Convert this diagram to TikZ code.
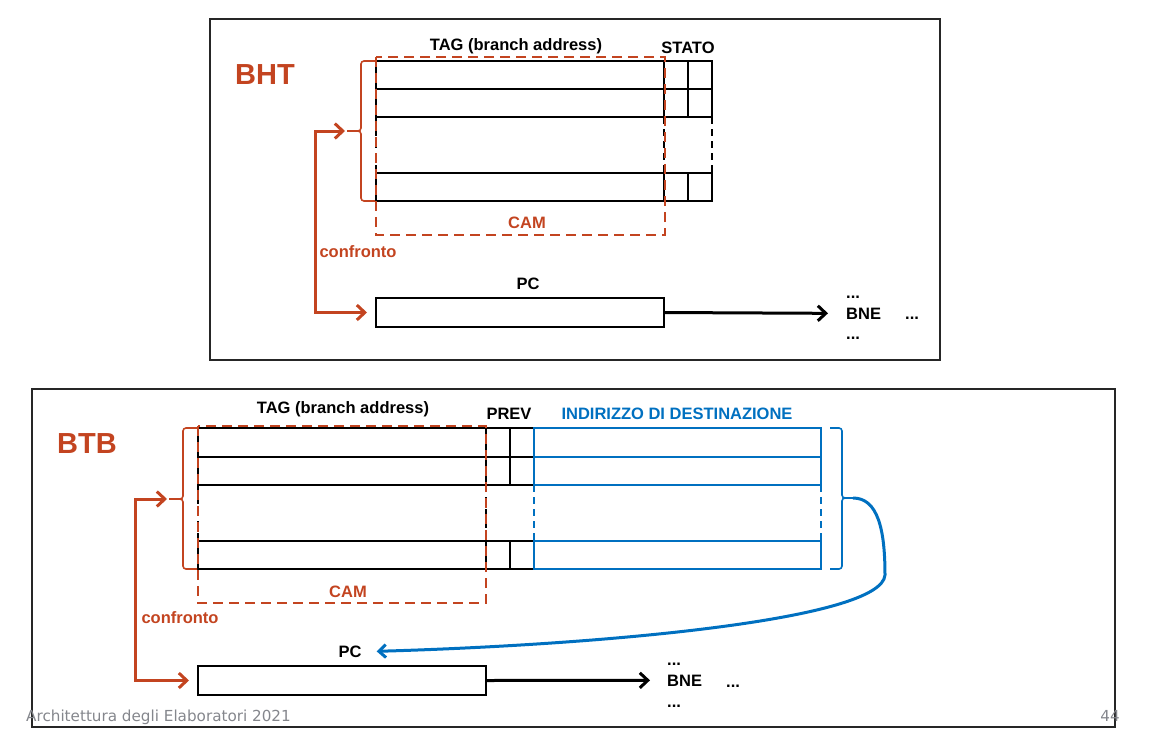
\documentclass[tikz,border=0pt]{standalone}
\usepackage{fontspec}
\setmainfont{Liberation Sans}
\newfontfamily\footfont{DejaVu Sans}
\usetikzlibrary{arrows.meta}
\definecolor{rust}{RGB}{195,68,32}
\definecolor{dblue}{RGB}{0,112,192}
\definecolor{footgray}{RGB}{132,134,140}
\begin{document}
\begin{tikzpicture}[x=1pt,y=-1pt,
  frame/.style={draw=black!85, line width=2pt},
  rowbox/.style={draw=black, line width=2.6pt},
  divider/.style={draw=black, line width=1.6pt},
  blurow/.style={draw=dblue, line width=2.8pt},
  gapline/.style={draw=black, line width=1.8pt, dash pattern=on 7pt off 5pt},
  bgapline/.style={draw=dblue, line width=1.8pt, dash pattern=on 7pt off 5pt},
  cam/.style={draw=rust, line width=2.8pt, dash pattern=on 10pt off 6pt},
  bracepath/.style={line width=1.6pt, rounded corners=3pt},
  pcbox/.style={draw=black, line width=2.6pt, minimum width=288pt, minimum height=29pt, inner sep=0pt, outer sep=0pt, anchor=north west},
  lab/.style={font=\fontsize{16.5}{18}\selectfont\bfseries, inner sep=0pt},
  biglab/.style={font=\fontsize{29}{32}\selectfont\bfseries, text=rust, inner sep=0pt},
  footlab/.style={font=\footfont\fontsize{15.2}{17}\selectfont, text=footgray, inner sep=0pt},
  redarrow/.style={draw=rust, line width=3pt, {Straight Barb[length=8pt,width=15pt]}-{Straight Barb[length=8pt,width=15pt]}},
  blkarrow/.style={draw=black, line width=3pt, -{Straight Barb[length=8pt,width=15pt]}},
  bluarrow/.style={draw=dblue, line width=3pt, -{Straight Barb[length=7pt,width=13pt]}}
]
\useasboundingbox (0,0) rectangle (1171,745);

% ===================== BHT =====================
\draw[frame] (210,19) rectangle (940,360);
\node[biglab, anchor=base] (bhtlbl) at (265,84) {BHT};

\foreach \t/\b in {61/89, 89/117, 173/201} {
  \draw[rowbox] (376,\t) rectangle (664,\b);
  \draw[rowbox] (664,\t) rectangle (712,\b);
  \draw[divider] (688,\t) -- (688,\b);
}
\draw[gapline] (376,117) -- (376,173);
\draw[gapline] (664,117) -- (664,173);
\draw[gapline] (712,117) -- (712,173);
\draw[cam] (376,57) rectangle (665,235);

\node[lab, anchor=base] (bhttag) at (516,50) {TAG (branch address)};
\node[lab, anchor=base] (bhtstato) at (688,53) {STATO};
\node[lab, anchor=base, text=rust] (bhtcam) at (527,228) {CAM};
\node[lab, anchor=base, text=rust] (bhtconf) at (358,257) {confronto};
\node[lab, anchor=base] (bhtpclbl) at (528,289) {PC};

% brace
\coordinate (bhtbrace) at (347,131);
\draw[rust, bracepath] (375,61) -- (361,61) -- (361,131) -- (bhtbrace);
\draw[rust, bracepath] (bhtbrace) -- (361,131) -- (361,201) -- (375,201);

\node[pcbox] (bhtpc) at (376,298) {};
\coordinate (bhtpcin) at ([xshift=-9pt]bhtpc.west);
\draw[redarrow] ([xshift=-2pt]bhtbrace) -- ++(-30,0) |- (bhtpcin);

\node[lab, anchor=base west] (bhtdots1) at (846,298) {...};
\node[lab, anchor=base west] (bhtbne) at (846,319) {BNE};
\node[lab, anchor=base west] (bhtdots2) at (846,339) {...};
\node[lab, anchor=base west] (bhtdots3) at (905,319) {...};
\draw[blkarrow] (bhtpc.east) -- ([xshift=-18pt]bhtbne.west);

% ===================== BTB =====================
\draw[frame] (32,389) rectangle (1115,727);
\node[biglab, anchor=base] (btblbl) at (87,453) {BTB};

\foreach \t/\b in {428/457, 457/485, 541/569} {
  \draw[rowbox] (198,\t) rectangle (486,\b);
  \draw[rowbox] (486,\t) rectangle (534,\b);
  \draw[divider] (510,\t) -- (510,\b);
  \draw[blurow] (534,\t) rectangle (821,\b);
}
\draw[gapline] (198,485) -- (198,541);
\draw[gapline] (486,485) -- (486,541);
\draw[bgapline] (534,485) -- (534,541);
\draw[bgapline] (821,485) -- (821,541);
\draw[cam] (198,426) rectangle (486,603);

\node[lab, anchor=base] (btbtag) at (343,413) {TAG (branch address)};
\node[lab, anchor=base] (btbprev) at (509,419) {PREV};
\node[lab, anchor=base, text=dblue] (btbdest) at (677,419) {INDIRIZZO DI DESTINAZIONE};
\node[lab, anchor=base, text=rust] (btbcam) at (348,597) {CAM};
\node[lab, anchor=base, text=rust] (btbconf) at (180,623) {confronto};
\node[lab, anchor=base] (btbpclbl) at (350,657) {PC};

% left brace
\coordinate (btbbrace) at (169,499);
\draw[rust, bracepath] (197,428) -- (183,428) -- (183,499) -- (btbbrace);
\draw[rust, bracepath] (btbbrace) -- (183,499) -- (183,569) -- (197,569);

% right brace
\coordinate (btbrbrace) at (853,498);
\draw[dblue, bracepath] (830,428) -- (842,428) -- (842,498) -- (btbrbrace);
\draw[dblue, bracepath] (btbrbrace) -- (842,498) -- (842,569) -- (830,569);

\node[pcbox] (btbpc) at (198,666) {};
\coordinate (btbpcin) at ([xshift=-9pt]btbpc.west);
\draw[redarrow] ([xshift=-2pt]btbbrace) -- ++(-32,0) |- (btbpcin);

\draw[bluarrow] (btbrbrace) .. controls (878,498) and (885,530) .. (885,575)
  .. controls (882,620) and (600,645) .. ([xshift=15pt]btbpclbl.east);

\node[lab, anchor=base west] (btbdots1) at (667,665) {...};
\node[lab, anchor=base west] (btbbne) at (667,686) {BNE};
\node[lab, anchor=base west] (btbdots2) at (667,707) {...};
\node[lab, anchor=base west] (btbdots3) at (726,687) {...};
\draw[blkarrow] (btbpc.east) -- ([xshift=-17pt]btbbne.west);

% footer
\node[footlab, anchor=base west] (foot) at (26,721) {Architettura degli Elaboratori 2021};
\node[footlab, anchor=base east] (pagenum) at (1120,721) {44};
\end{tikzpicture}
\end{document}
